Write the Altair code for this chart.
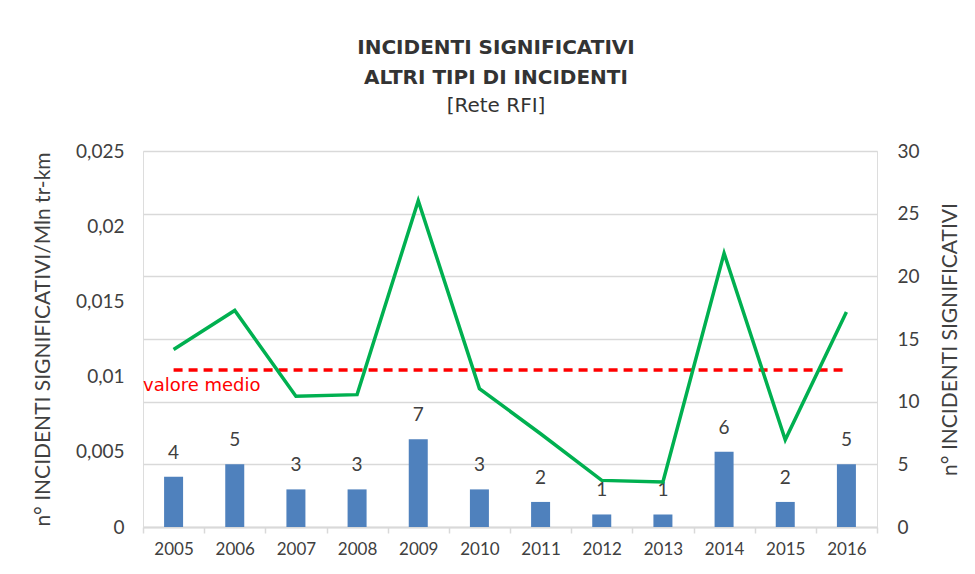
import altair as alt
import pandas as pd

years = ["2005", "2006", "2007", "2008", "2009", "2010",
         "2011", "2012", "2013", "2014", "2015", "2016"]
counts = [4, 5, 3, 3, 7, 3, 2, 1, 1, 6, 2, 5]
rates = [0.0118, 0.0144, 0.0087, 0.0088, 0.0217, 0.0092,
         0.0062, 0.0031, 0.0030, 0.0182, 0.0058, 0.0143]
avg_rate = 0.01044
avg_label = "valore medio"

rate_ticks = [0, 0.005, 0.01, 0.015, 0.02, 0.025]
count_ticks = [0, 5, 10, 15, 20, 25, 30]

df = pd.DataFrame({"year": years, "count": counts, "rate": rates})
avg_df = pd.DataFrame({"year": [years[0], years[-1]], "rate": [avg_rate, avg_rate]})
avg_txt = pd.DataFrame({"year": [years[0]], "rate": [avg_rate], "label": [avg_label]})

TXT = "#404040"
GRID = "#d9d9d9"
FONT = "Lato"
WIDE = "DejaVu Sans"

x_enc = alt.X(
    "year:N",
    sort=years,
    scale=alt.Scale(paddingInner=0, paddingOuter=0),
    axis=alt.Axis(
        title=None, labelAngle=0, tickBand="extent", ticks=True, tickSize=6,
        tickColor=GRID, tickWidth=1.5, domainColor=GRID, domainWidth=2,
        labelFontSize=17, labelColor=TXT, labelFont=FONT, labelPadding=8,
        grid=False,
    ),
)

count_axis = alt.Axis(
    orient="right", values=count_ticks, grid=True, gridColor=GRID, gridWidth=1.5,
    ticks=False, domain=False, labelPadding=20, labelFontSize=19,
    labelColor=TXT, labelFont=FONT, title="n° INCIDENTI SIGNIFICATIVI",
    titleFontSize=21, titleFontWeight="normal", titleColor=TXT, titleFont=FONT,
    titlePadding=41, titleAngle=270,
)
rate_axis = alt.Axis(
    orient="left", values=rate_ticks, grid=False, ticks=False, domain=False,
    labelPadding=19, labelFontSize=19, labelColor=TXT, labelFont=FONT,
    labelExpr="replace(format(datum.value, '~g'), '.', ',')",
    title="n° INCIDENTI SIGNIFICATIVI/Mln tr-km", titleFontSize=21,
    titleFontWeight="normal", titleColor=TXT, titleFont=FONT, titlePadding=22,
)

y_count = alt.Y("count:Q", scale=alt.Scale(domain=[0, 30], nice=False), axis=count_axis)
y_rate = alt.Y("rate:Q", scale=alt.Scale(domain=[0, 0.025], nice=False), axis=rate_axis)

bars = alt.Chart(df).mark_bar(size=19, color="#4f81bd").encode(x=x_enc, y=y_count)
bar_labels = alt.Chart(df).mark_text(
    baseline="bottom", dy=-14, fontSize=19, color=TXT, font=FONT
).encode(x=x_enc, y=y_count, text="count:Q")
left_layer = alt.layer(bars, bar_labels)

avg_line = alt.Chart(avg_df).mark_line(
    color="#ff0000", strokeWidth=3.5, strokeDash=[9, 6]
).encode(x=x_enc, y=y_rate)
avg_text = alt.Chart(avg_txt).mark_text(
    align="left", baseline="middle", dy=16, fontSize=18, color="#ff0000", font=WIDE
).encode(x=alt.X("year:N", sort=years, bandPosition=0,
                 scale=alt.Scale(paddingInner=0, paddingOuter=0)),
         y=y_rate, text="label:N")
green = alt.Chart(df).mark_line(color="#00b050", strokeWidth=3.5).encode(x=x_enc, y=y_rate)
right_layer = alt.layer(avg_line, avg_text, green)

chart = alt.layer(left_layer, right_layer).resolve_scale(y="independent").properties(
    width=734,
    height=376,
    title=alt.TitleParams(
        text=["INCIDENTI SIGNIFICATIVI", "ALTRI TIPI DI INCIDENTI"],
        subtitle="[Rete RFI]",
        fontSize=20, fontWeight="bold", font=WIDE, color="#333333",
        lineHeight=30,
        subtitleFontSize=20, subtitleFontWeight="normal", subtitleFont=WIDE,
        subtitleColor="#333333", subtitlePadding=8, subtitleLineHeight=28,
        anchor="middle", offset=26, dx=-14,
    ),
    padding={"left": 135, "top": 143, "right": 90, "bottom": 30},
    autosize=alt.AutoSizeParams(type="none"),
).configure_view(stroke=None).configure(background="white")

chart.save("out.html", embed_options={"renderer": "svg", "actions": False})
